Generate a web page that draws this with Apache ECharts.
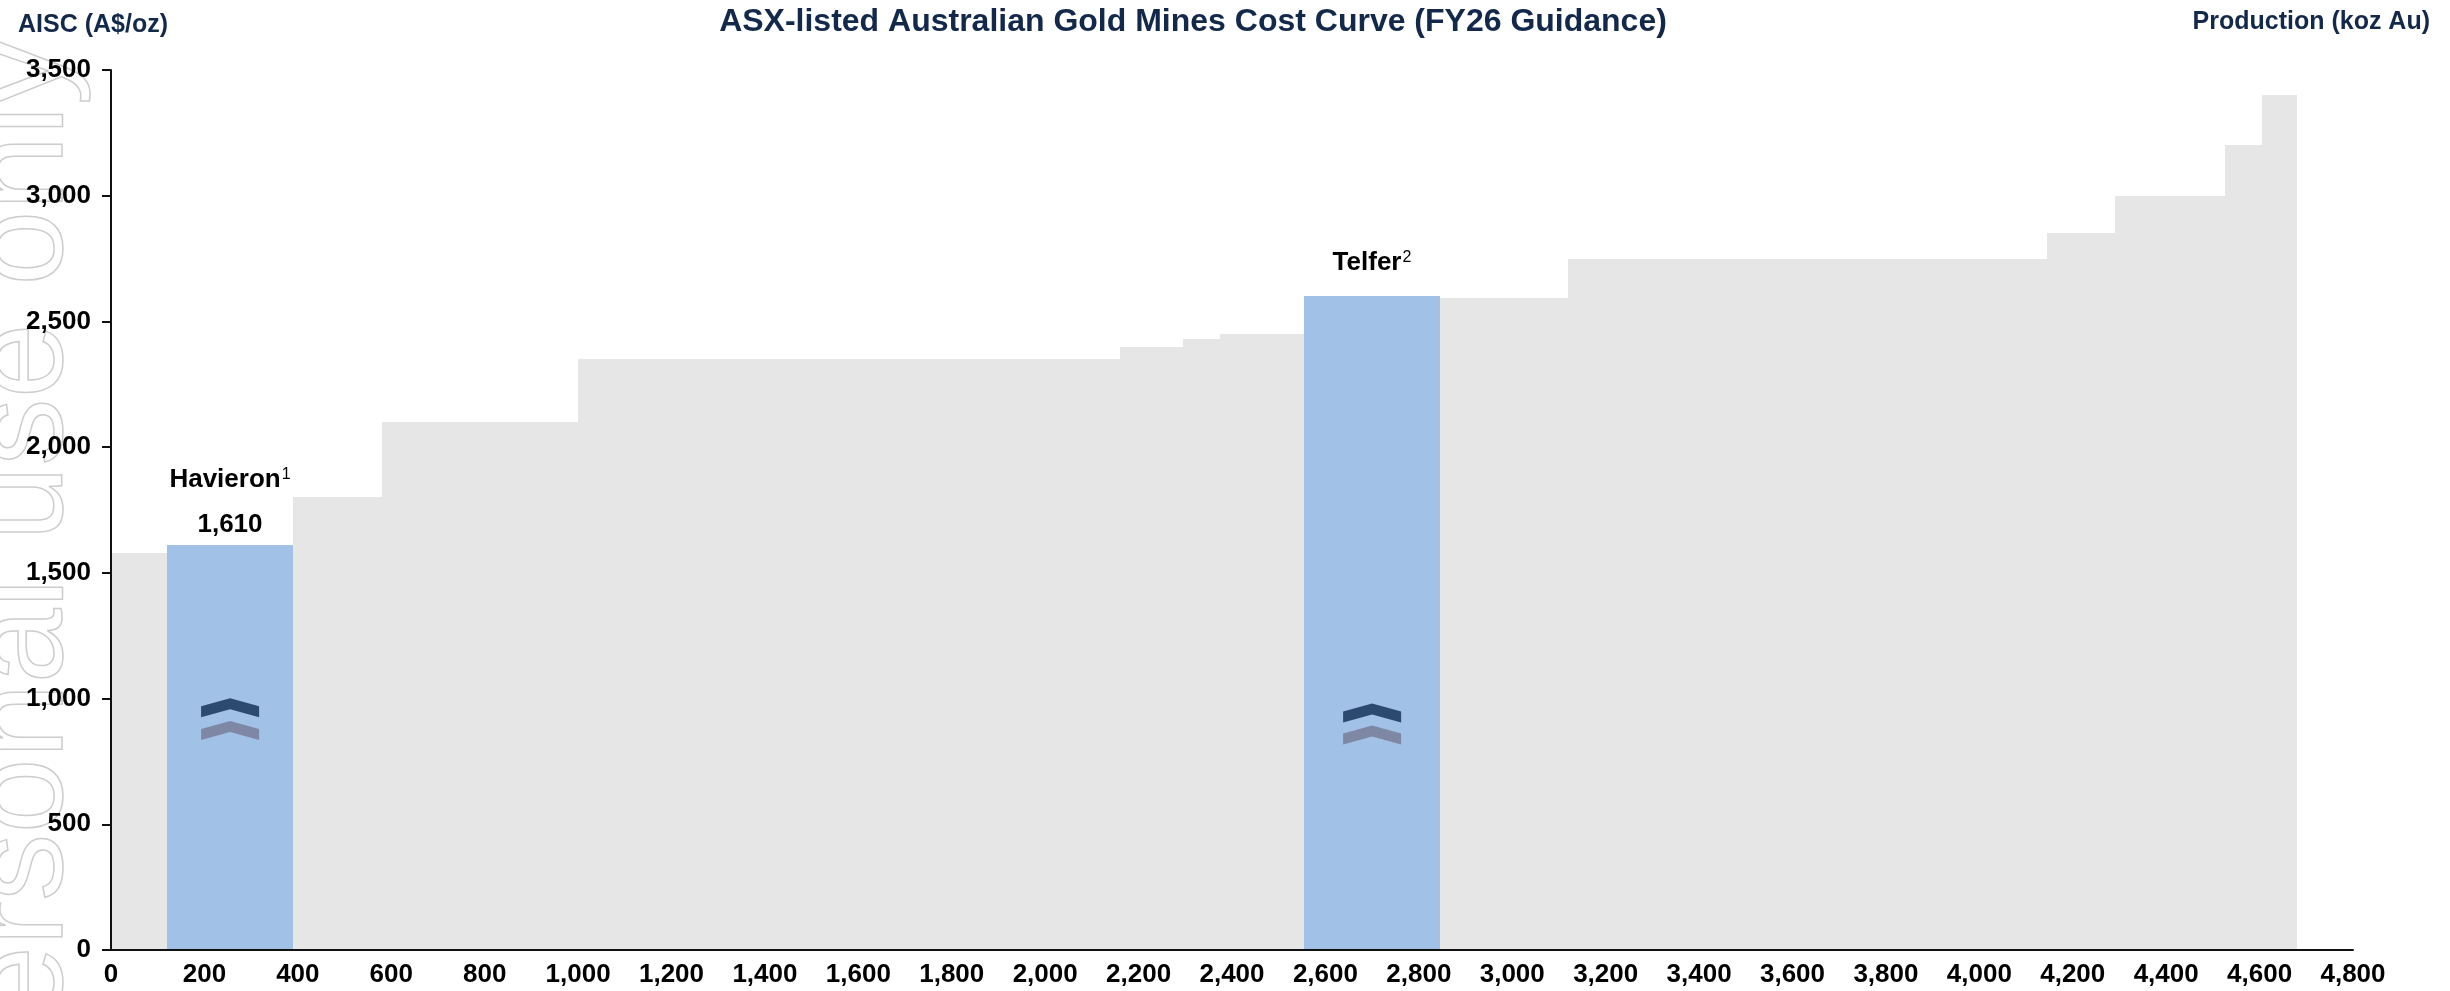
<!DOCTYPE html>
<html>
<head>
<meta charset="utf-8">
<title>ASX-listed Australian Gold Mines Cost Curve (FY26 Guidance)</title>
<script src="https://cdn.jsdelivr.net/npm/echarts@6/dist/echarts.min.js"></script>
<style>
  html, body { margin: 0; padding: 0; background: #fff; }
  #main { width: 2450px; height: 991px; }
</style>
</head>
<body>
<div id="main"></div>
<script>
// production of each mine (koz Au), in cost order
const production = [120, 270, 190, 420, 1160, 135, 80, 180, 290, 275, 1025, 145, 235, 80, 75];
// AISC of each mine (A$/oz)
const aisc = [1580, 1610, 1800, 2100, 2350, 2400, 2430, 2450, 2600, 2595, 2750, 2850, 3000, 3200, 3400];
// named mines (highlighted), empty = other ASX mines
const mineName = ['', 'Havieron', '', '', '', '', '', '', 'Telfer', '', '', '', '', '', ''];
const footnote = ['', '1', '', '', '', '', '', '', '2', '', '', '', '', '', ''];
const showValue = [false, true, false, false, false, false, false, false, false, false, false, false, false, false, false];

// chevron markers inside the highlighted bars
const chevronX = [255, 2700];
const chevronDarkY = [963, 943];
const chevronLightY = [873, 855];

const FONT = "'Liberation Sans Narrow', 'Liberation Sans', Arial, sans-serif";
const NAVY = '#13294b';

// cumulative start/end of every bar
let barData = [];
let acc = 0;
production.forEach((p, i) => {
    barData.push([acc, acc + p, aisc[i], i]);
    acc += p;
});

function renderBar(params, api) {
    const i = api.value(3);
    const top = api.coord([api.value(0), api.value(2)]);
    const bot = api.coord([api.value(1), 0]);
    const x0 = Math.round(top[0]);
    const x1 = Math.round(bot[0]);
    const y0 = Math.round(top[1]);
    const y1 = Math.round(bot[1]);
    const highlight = mineName[i] !== '';
    let children = [{
        type: 'rect',
        shape: { x: x0, y: y0, width: x1 - x0, height: y1 - y0 },
        style: { fill: highlight ? '#a2c1e6' : '#e6e6e6' }
    }];
    if (highlight) {
        const cx = (x0 + x1) / 2;
        const nameOffset = showValue[i] ? 65 : 33;
        children.push({
            type: 'text',
            style: {
                x: cx, y: y0 - nameOffset,
                text: '{n|' + mineName[i] + '}{s|' + footnote[i] + '}',
                align: 'center', verticalAlign: 'middle',
                rich: {
                    n: { fontSize: 26, fontWeight: 'bold', fontFamily: FONT, fill: '#000' },
                    s: { fontSize: 16, fontFamily: FONT, fill: '#000', verticalAlign: 'top', padding: [0, 0, 10, 1] }
                }
            }
        });
        if (showValue[i]) {
            children.push({
                type: 'text',
                style: {
                    x: cx, y: y0 - 20,
                    text: aisc[i].toLocaleString('en-US'),
                    align: 'center', verticalAlign: 'middle',
                    font: 'bold 26px ' + FONT, fill: '#000'
                }
            });
        }
    }
    return { type: 'group', children: children };
}

const chart = echarts.init(document.getElementById('main'));

const option = {
    animation: false,
    grid: { left: 111, right: 97, top: 70, bottom: 41, outerBoundsMode: 'none' },
    graphic: [
        {
            type: 'text', x: 92, y: 38, rotation: Math.PI / 2, z: -10, silent: true,
            style: {
                text: 'For personal use only',
                font: '135px "Liberation Sans", Arial, sans-serif',
                fill: 'none', stroke: '#cdcdcd', lineWidth: 1.5,
                align: 'right', verticalAlign: 'bottom'
            }
        },
        {
            type: 'text', x: 1193, y: 22,
            style: {
                text: 'ASX-listed Australian Gold Mines Cost Curve (FY26 Guidance)',
                font: 'bold 32px ' + FONT, fill: NAVY,
                align: 'center', verticalAlign: 'middle'
            }
        },
        {
            type: 'text', x: 18, y: 25,
            style: {
                text: 'AISC (A$/oz)',
                font: 'bold 25px ' + FONT, fill: NAVY,
                align: 'left', verticalAlign: 'middle'
            }
        },
        {
            type: 'text', x: 2430, y: 22,
            style: {
                text: 'Production (koz Au)',
                font: 'bold 25px ' + FONT, fill: NAVY,
                align: 'right', verticalAlign: 'middle'
            }
        }
    ],
    xAxis: {
        type: 'value', min: 0, max: 4800, interval: 200, z: 10,
        splitLine: { show: false },
        axisLine: { show: true, onZero: false, lineStyle: { color: '#111', width: 2 } },
        axisTick: { show: false },
        axisLabel: {
            margin: 12, color: '#000', fontWeight: 'bold', fontSize: 26, fontFamily: FONT,
            formatter: v => v.toLocaleString('en-US')
        }
    },
    yAxis: {
        type: 'value', min: 0, max: 3500, interval: 500, z: 10,
        splitLine: { show: false },
        axisLine: { show: true, lineStyle: { color: '#111', width: 2 } },
        axisTick: { show: true, length: 9, lineStyle: { color: '#111', width: 2 } },
        axisLabel: {
            margin: 20, color: '#000', fontWeight: 'bold', fontSize: 26, fontFamily: FONT,
            formatter: v => v.toLocaleString('en-US')
        }
    },
    series: [
        {
            type: 'custom',
            renderItem: renderBar,
            encode: { x: [0, 1], y: 2 },
            data: barData,
            z: 2
        },
        {
            type: 'scatter',
            symbol: 'path://M0,8L29,0L58,8L58,19L29,11L0,19Z',
            symbolSize: [58, 19],
            itemStyle: { color: '#0f2b52' },
            data: chevronX.map((x, i) => [x, chevronDarkY[i]]),
            z: 5
        },
        {
            type: 'scatter',
            symbol: 'path://M0,8L29,0L58,8L58,19L29,11L0,19Z',
            symbolSize: [58, 19],
            itemStyle: { color: '#767995' },
            data: chevronX.map((x, i) => [x, chevronLightY[i]]),
            z: 5
        }
    ]
};

chart.setOption(option);
</script>
</body>
</html>
